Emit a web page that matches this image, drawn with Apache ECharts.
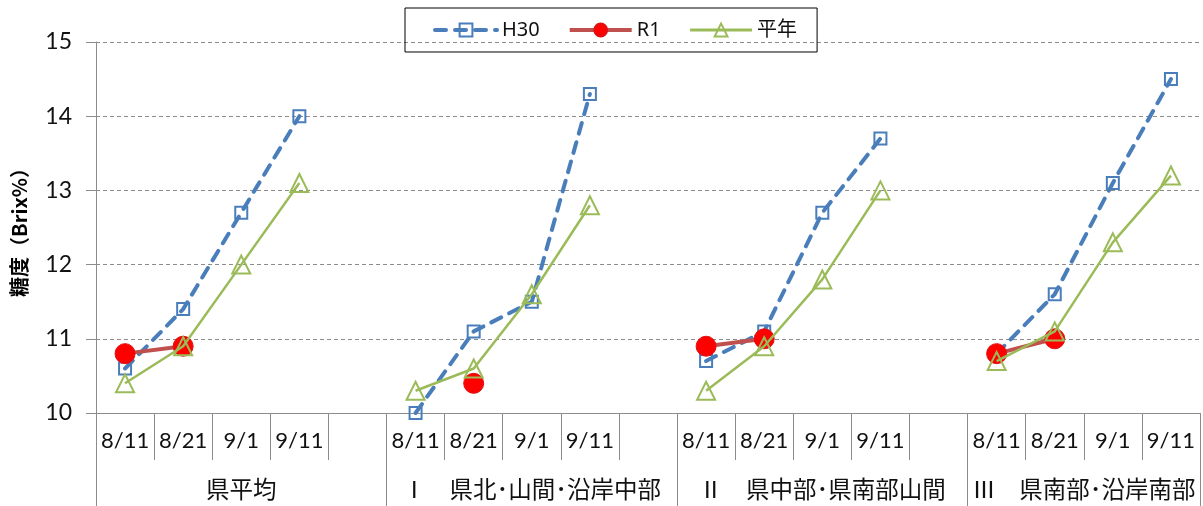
<!DOCTYPE html>
<html>
<head>
<meta charset="utf-8">
<script src="https://cdn.jsdelivr.net/npm/echarts@6/dist/echarts.min.js"></script>
<style>html,body{margin:0;padding:0;background:#fff;}#c{width:1203px;height:506px;}</style>
</head>
<body>
<div id="c"></div>
<script>
// ---- data ----
const dates = ['8/11', '8/21', '9/1', '9/11'];
const groups = ['県平均', 'Ⅰ　県北･山間･沿岸中部', 'Ⅱ　県中部･県南部山間', 'Ⅲ　県南部･沿岸南部'];
// slot categories: each group = 4 dates + one blank slot (last group has none)
const categories = ['8/11','8/21','9/1','9/11','', '8/11','8/21','9/1','9/11','', '8/11','8/21','9/1','9/11','', '8/11','8/21','9/1','9/11'];
const h30    = [10.6, 11.4, 12.7, 14.0, null, 10.0, 11.1, 11.5, 14.3, null, 10.7, 11.1, 12.7, 13.7, null, 10.8, 11.6, 13.1, 14.5];
const r1     = [10.8, 10.9, null, null, null, null, 10.4, null, null, null, 10.9, 11.0, null, null, null, 10.8, 11.0, null, null];
const heinen = [10.4, 10.9, 12.0, 13.1, null, 10.3, 10.6, 11.6, 12.8, null, 10.3, 10.9, 11.8, 13.0, null, 10.7, 11.1, 12.3, 13.2];
const yTicks = [10, 11, 12, 13, 14, 15];

// group boundaries / centres in slot units (derived from category layout)
const groupSizes = [5, 5, 5, 4];
const groupEdges = [0];
groupSizes.forEach(s => groupEdges.push(groupEdges[groupEdges.length - 1] + s));
const groupCenters = groups.map((g, i) => groupEdges[i] + groupSizes[i] / 2);

const FONT = 'Lato, "Noto Sans CJK JP", sans-serif';
const chart = echarts.init(document.getElementById('c'), null, {renderer: 'canvas'});
chart.setOption({
  animation: false,
  backgroundColor: '#fff',
  grid: {left: 96, right: 3, top: 42, bottom: 93, containLabel: false},
  legend: {
    left: 405, top: 8,
    itemWidth: 62, itemHeight: 16, itemGap: 28,
    padding: [12, 20, 12, 28],
    borderColor: '#000', borderWidth: 1,
    textStyle: {fontSize: 20, color: '#111', fontFamily: '"Noto Sans", "Noto Sans CJK JP", sans-serif'},
    data: [
      {name: 'H30', lineStyle: {width: 4}},
      {name: 'R1', lineStyle: {width: 4}},
      {name: '平年', lineStyle: {width: 3}}
    ]
  },
  xAxis: [
    {
      type: 'category', position: 'bottom', data: categories, boundaryGap: true,
      axisLine: {show: true, lineStyle: {color: '#8c8c8c', width: 1}},
      axisTick: {show: true, interval: 0, length: 47, lineStyle: {color: '#8c8c8c'}},
      axisLabel: {interval: 0, margin: 17, fontSize: 22, color: '#111', fontFamily: FONT},
      splitLine: {show: false}
    },
    {
      type: 'value', position: 'bottom', min: 0, max: groupEdges[groupEdges.length - 1],
      axisLine: {show: false},
      axisTick: {show: true, customValues: groupEdges, length: 93, lineStyle: {color: '#8c8c8c'}},
      axisLabel: {
        customValues: groupCenters, margin: 64, fontSize: 23.5, color: '#111',
        fontFamily: '"Noto Sans CJK JP", sans-serif',
        formatter: v => { const i = groupCenters.indexOf(v); return i >= 0 ? groups[i] : ''; }
      },
      splitLine: {show: false}
    }
  ],
  yAxis: {
    type: 'value', min: yTicks[0], max: yTicks[yTicks.length - 1], interval: 1,
    name: '糖度（Brix%）', nameLocation: 'middle', nameRotate: 90, nameGap: 67,
    nameTextStyle: {fontSize: 20, fontWeight: 'bold', color: '#000', fontFamily: '"Noto Sans CJK JP", sans-serif'},
    axisLine: {show: true, lineStyle: {color: '#8c8c8c'}},
    axisTick: {show: true, length: 10, lineStyle: {color: '#8c8c8c'}},
    axisLabel: {margin: 24, fontSize: 23, color: '#111', fontFamily: FONT},
    splitLine: {show: true, lineStyle: {color: '#8c8c8c', type: [4, 3], width: 1}}
  },
  series: [
    {
      name: 'H30', type: 'line', data: h30, xAxisIndex: 0, connectNulls: false,
      symbol: 'rect', symbolSize: 12, showAllSymbol: true,
      lineStyle: {color: '#4A7EBB', width: 4, type: [11, 9], cap: 'round'},
      itemStyle: {color: 'rgba(255,255,255,0)', borderColor: '#4A7EBB', borderWidth: 2},
      z: 2
    },
    {
      name: 'R1', type: 'line', data: r1, xAxisIndex: 0, connectNulls: false,
      symbol: 'circle', symbolSize: 20, showAllSymbol: true,
      lineStyle: {color: '#C0504D', width: 4},
      itemStyle: {color: '#FF0000', borderColor: '#E01010', borderWidth: 1},
      z: 3
    },
    {
      name: '平年', type: 'line', data: heinen, xAxisIndex: 0, connectNulls: false,
      symbol: 'triangle', symbolSize: 18, showAllSymbol: true,
      lineStyle: {color: '#9BBB59', width: 2.5},
      itemStyle: {color: 'rgba(255,255,255,0)', borderColor: '#9BBB59', borderWidth: 2},
      z: 4
    }
  ]
});
</script>
</body>
</html>
